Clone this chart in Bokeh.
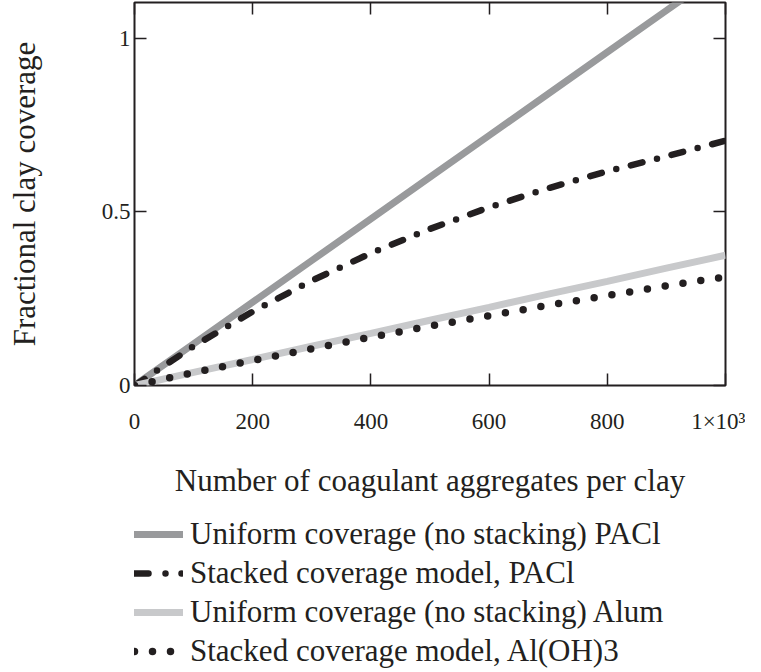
from bokeh.plotting import figure
from bokeh.layouts import column
from bokeh.models import Range1d, LinearAxis, FixedTicker, Legend, LegendItem
from bokeh.embed import file_html
from bokeh.resources import INLINE

# ---- data ----
aggregates = [0, 100, 200, 300, 400, 500, 600, 700, 800, 900, 1000]
uniform_pacl = [0, 0.12, 0.24, 0.36, 0.48, 0.60, 0.72, 0.84, 0.96, 1.08, 1.20]
stacked_pacl = [0, 0.113, 0.213, 0.302, 0.381, 0.451, 0.513, 0.568, 0.617, 0.660, 0.705]
uniform_alum = [0, 0.038, 0.075, 0.113, 0.150, 0.188, 0.225, 0.263, 0.300, 0.338, 0.375]
stacked_aloh3 = [0, 0.037, 0.072, 0.106, 0.139, 0.171, 0.201, 0.231, 0.259, 0.287, 0.313]

x_ticks = [0, 200, 400, 600, 800, 1000]
x_tick_labels = ["0", "200", "400", "600", "800", "1×10³"]
y_ticks = [0, 0.5, 1]
y_tick_labels = ["0", "0.5", "1"]

series_labels = [
    "Uniform coverage (no stacking) PACl",
    "Stacked coverage model, PACl",
    "Uniform coverage (no stacking) Alum",
    "Stacked coverage model, Al(OH)3",
]

FONT = "Liberation Serif"
INK = "#231f20"
GRAY = "#999a9c"
LIGHT = "#c8c9cb"

fig = figure(width=745, height=500, output_backend="svg", toolbar_location=None,
             x_range=Range1d(0, 1000), y_range=Range1d(0, 1.103),
             min_border_left=130, min_border_right=20, min_border_top=2,
             min_border_bottom=114)
fig.background_fill_color = "white"
fig.border_fill_color = "white"
fig.xgrid.visible = False
fig.ygrid.visible = False
fig.outline_line_color = INK
fig.outline_line_width = 2

# main axes
xa = fig.xaxis[0]
xa.ticker = FixedTicker(ticks=x_ticks)
xa.major_label_overrides = {t: l for t, l in zip(x_ticks, x_tick_labels)}
ya = fig.yaxis[0]
ya.ticker = FixedTicker(ticks=y_ticks)
ya.major_label_overrides = {t: l for t, l in zip(y_ticks, y_tick_labels)}

for ax in (xa, ya):
    ax.axis_line_color = None
    ax.major_tick_in = 12
    ax.major_tick_out = 0
    ax.minor_tick_line_color = None
    ax.major_tick_line_color = INK
    ax.major_tick_line_width = 1.5
    ax.major_label_text_font = FONT
    ax.major_label_text_font_size = "23px"
    ax.major_label_text_color = INK
    ax.axis_label_text_font = FONT
    ax.axis_label_text_font_size = "31px"
    ax.axis_label_text_font_style = "normal"
    ax.axis_label_text_color = INK

xa.axis_label = "Number of coagulant aggregates per clay"
xa.major_label_standoff = 23
xa.axis_label_standoff = 26
ya.axis_label = "Fractional clay coverage"
ya.major_label_standoff = 4
ya.axis_label_standoff = 57

# mirrored axes (ticks only)
top = LinearAxis(ticker=FixedTicker(ticks=x_ticks))
right = LinearAxis(ticker=FixedTicker(ticks=y_ticks))
for ax, ticks in ((top, x_ticks), (right, y_ticks)):
    ax.axis_line_color = None
    ax.major_tick_in = 12
    ax.major_tick_out = 0
    ax.minor_tick_line_color = None
    ax.major_tick_line_color = INK
    ax.major_tick_line_width = 1.5
    ax.major_label_overrides = {t: "" for t in ticks}
    ax.major_label_text_font_size = "0px"
    ax.major_label_standoff = 0
fig.add_layout(top, "above")
fig.add_layout(right, "right")

# ---- series ----
fig.line(aggregates, uniform_pacl, line_color=GRAY, line_width=7)
fig.line(aggregates, stacked_pacl, line_color=INK, line_width=6.5,
         line_dash="12 15 0 15", line_cap="round")
fig.line(aggregates, uniform_alum, line_color=LIGHT, line_width=7)
fig.line(aggregates, stacked_aloh3, line_color=INK, line_width=7.5,
         line_dash="0 18", line_cap="round")

# ---- legend strip under the chart ----
lg = figure(width=745, height=170, output_backend="svg", toolbar_location=None,
            x_range=Range1d(-2000, -1000), y_range=Range1d(-2, -1),
            x_axis_type=None, y_axis_type=None,
            min_border_left=134, min_border_top=16, min_border_right=0,
            min_border_bottom=0)
lg.xgrid.visible = False
lg.ygrid.visible = False
lg.outline_line_color = None
lg.background_fill_color = "white"
lg.border_fill_color = "white"

# legend-only copies of the series (kept out of this strip's visible range)
g1 = lg.line(aggregates, uniform_pacl, line_color=GRAY, line_width=7, line_cap="round")
g2 = lg.line(aggregates, stacked_pacl, line_color=INK, line_width=6.5, line_cap="round",
             line_dash="14 17 0 16 0 40")
g3 = lg.line(aggregates, uniform_alum, line_color=LIGHT, line_width=7, line_cap="round")
g4 = lg.line(aggregates, stacked_aloh3, line_color=INK, line_width=7.5, line_cap="round",
             line_dash="0 18")

legend = Legend(
    items=[LegendItem(label=lab, renderers=[r])
           for lab, r in zip(series_labels, [g1, g2, g3, g4])],
    location="top_left", orientation="vertical",
    background_fill_alpha=0, border_line_color=None,
    padding=0, margin=0, spacing=3,
    glyph_width=49, glyph_height=34, label_height=34, label_standoff=7,
    label_text_font=FONT, label_text_font_size="31px", label_text_color=INK,
)
lg.add_layout(legend, "center")

p = column(fig, lg, spacing=0)

open("out.html", "w").write(file_html(p, INLINE))
